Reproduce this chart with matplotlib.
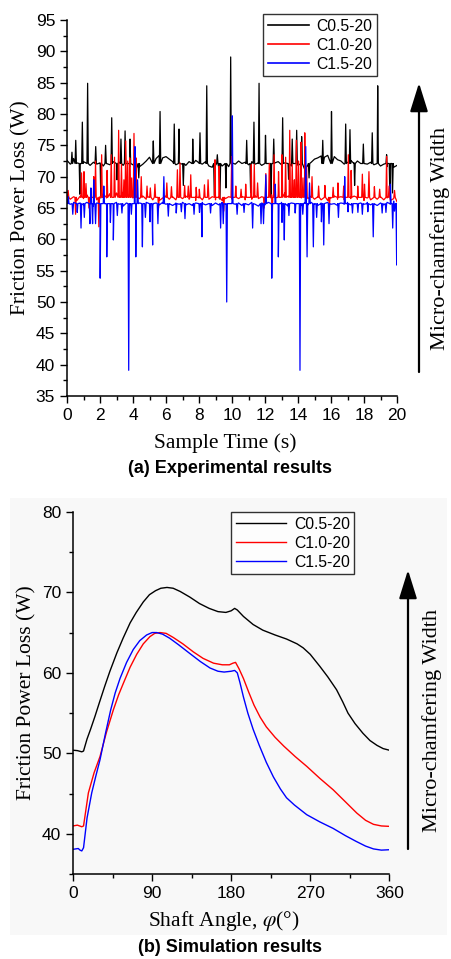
import numpy as np
import matplotlib
matplotlib.use("Agg")
import matplotlib.pyplot as plt
from matplotlib.patches import FancyArrowPatch, Rectangle
from matplotlib.ticker import MultipleLocator

plt.rcParams['font.family'] = ['Liberation Sans', 'DejaVu Sans']
plt.rcParams['mathtext.fontset'] = 'stix'

# ---------------- (a) experimental data ----------------
labels = ["C0.5-20", "C1.0-20", "C1.5-20"]
colors = ["black", "red", "blue"]

# baseline values sampled every 0.2 s (0 ... 20 s)
t_base = [round(0.2 * i, 1) for i in range(101)]

black_base = [72.6, 72.0, 72.9, 72.2, 71.9, 72.4, 72.1, 71.8, 72.3, 72.0,
              72.2, 71.7, 72.1, 71.9, 72.4, 72.0, 72.3, 71.8, 72.1, 71.6,
              71.9, 71.3, 71.6, 72.0, 72.5, 73.1, 73.3, 72.9, 73.4, 73.0,
              73.2, 72.8, 72.4, 71.9, 72.3, 72.0, 71.8, 72.4, 72.1, 72.6,
              72.2, 72.0, 72.4, 71.7, 71.5, 71.8, 71.4, 71.7, 71.9, 71.6,
              72.2, 72.0, 72.5, 72.1, 72.3, 71.9, 72.4, 72.0, 72.2, 71.8,
              72.3, 72.1, 71.8, 72.2, 72.4, 71.9, 72.2, 72.0, 71.7, 72.1,
              71.8, 71.4, 71.2, 71.8, 72.3, 72.8, 73.0, 73.3, 73.1, 73.4,
              72.9, 73.2, 72.7, 72.5, 72.0, 72.3, 72.6, 72.2, 72.5, 72.1,
              72.4, 72.0, 72.3, 71.9, 72.2, 71.7, 72.0, 71.6, 71.9, 71.5,
              71.8]
red_base = [67.0, 66.4, 66.8, 66.2, 66.9, 66.5, 67.1, 66.6, 66.9, 66.3,
            66.8, 67.2, 66.6, 67.3, 66.7, 67.4, 66.9, 67.5, 66.8, 67.2,
            66.6, 67.0, 66.5, 66.9, 66.4, 66.8, 66.3, 66.7, 66.2, 66.6,
            66.9, 66.4, 66.8, 66.3, 66.7, 66.5, 66.9, 66.4, 66.7, 66.2,
            66.6, 66.3, 66.7, 66.4, 66.8, 66.3, 66.6, 66.2, 66.5, 66.8,
            66.4, 66.9, 66.5, 66.8, 66.3, 66.7, 66.4, 66.9, 66.5, 66.8,
            66.3, 66.7, 67.1, 66.6, 67.2, 66.8, 67.4, 66.9, 67.3, 66.7,
            67.2, 66.6, 67.0, 66.5, 66.9, 66.4, 66.8, 66.3, 66.7, 66.2,
            66.6, 66.9, 66.4, 66.8, 66.3, 66.7, 66.5, 66.9, 66.4, 66.7,
            66.2, 66.6, 66.3, 66.7, 66.4, 66.8, 66.3, 66.6, 66.2, 66.5,
            66.0]
blue_base = [66.4, 65.6, 65.9, 65.4, 65.8, 65.5, 65.9, 65.6, 65.3, 65.8,
             65.5, 65.9, 65.4, 65.7, 65.5, 65.9, 65.6, 65.3, 65.8, 65.5,
             65.7, 65.4, 65.8, 65.5, 65.9, 65.6, 65.4, 65.8, 65.5, 65.9,
             65.6, 65.7, 65.4, 65.8, 65.6, 65.9, 65.5, 65.7, 65.4, 65.8,
             65.6, 65.9, 65.5, 65.7, 65.4, 65.8, 65.5, 65.9, 65.6, 65.7,
             66.0, 65.6, 65.8, 65.4, 65.7, 65.5, 65.9, 65.6, 65.3, 65.8,
             65.5, 65.9, 65.4, 65.7, 65.5, 65.9, 65.6, 65.3, 65.8, 65.5,
             65.7, 65.4, 65.8, 65.5, 65.9, 65.6, 65.4, 65.8, 65.5, 65.9,
             65.6, 65.7, 65.4, 65.8, 65.6, 65.9, 65.5, 65.7, 65.4, 65.8,
             65.6, 65.9, 65.5, 65.7, 65.4, 65.8, 65.5, 65.9, 65.6, 66.1,
             65.7]

# level each spike starts from and returns to
black_level = 72.1
red_level = 66.7
blue_level = 65.7

# spikes / dips (time s, value W)
black_spk_t = [0.30, 0.53, 0.78, 0.93, 1.25, 1.74, 2.05, 2.34, 2.71, 3.03,
               3.27, 3.52, 3.82, 4.35, 5.23, 5.64, 6.50, 6.79, 7.05, 7.62,
               8.06, 8.47, 8.93, 9.11, 9.27, 9.63, 9.92, 10.89, 11.13, 11.33,
               11.64, 12.03, 12.37, 12.53, 13.07, 13.43, 13.65, 13.92, 14.22, 14.67,
               15.50, 16.03, 16.89, 17.15, 17.43, 17.96, 18.50, 18.83, 19.37, 19.57,
               19.73]
black_spk_v = [73.9, 75.8, 67.2, 78.7, 84.9, 74.8, 66.6, 75.0, 79.4, 69.5,
               76.0, 77.3, 76.0, 69.8, 75.7, 80.4, 78.4, 77.6, 68.6, 76.0,
               77.0, 84.5, 67.0, 73.5, 66.4, 68.2, 89.1, 75.8, 67.4, 78.7,
               84.9, 76.6, 66.6, 76.0, 79.4, 69.6, 76.0, 77.4, 76.4, 69.8,
               75.8, 80.4, 78.4, 77.5, 68.6, 75.2, 77.0, 84.5, 73.5, 66.8,
               67.4]

red_spk_t = [0.07, 0.52, 0.88, 1.03, 1.15, 1.33, 1.62, 1.73, 1.93, 2.10,
             2.43, 2.68, 2.88, 3.13, 3.30, 3.45, 3.56, 3.68, 3.80, 3.92,
             4.06, 4.18, 4.50, 4.85, 5.05, 5.33, 5.55, 6.05, 6.33, 6.69,
             6.85, 7.13, 7.35, 7.50, 7.83, 8.02, 8.33, 8.55, 8.97, 9.22,
             9.50, 9.98, 10.23, 10.55, 10.83, 11.17, 11.35, 11.55, 11.95, 12.05,
             12.26, 12.43, 12.55, 12.82, 13.03, 13.25, 13.50, 13.65, 13.78, 13.90,
             14.03, 14.18, 14.30, 14.41, 14.52, 14.85, 15.25, 15.63, 15.90, 16.13,
             16.42, 16.77, 17.05, 17.22, 17.62, 17.90, 18.03, 18.30, 18.63, 18.95,
             19.37, 19.52, 19.85]
red_spk_v = [67.8, 64.0, 70.6, 70.8, 68.9, 65.0, 70.0, 72.5, 62.0, 73.5,
             71.0, 73.5, 73.1, 77.4, 72.0, 69.5, 75.7, 72.5, 73.0, 69.8,
             76.9, 73.0, 70.0, 68.5, 68.2, 68.8, 65.0, 69.0, 68.4, 71.1,
             72.2, 68.6, 68.5, 70.3, 68.3, 68.0, 68.7, 69.5, 72.7, 71.7,
             64.5, 73.2, 68.5, 68.0, 68.8, 71.9, 72.0, 69.0, 65.0, 70.5,
             72.1, 62.0, 73.5, 70.8, 73.5, 73.1, 77.4, 72.0, 69.5, 75.8,
             72.5, 75.5, 69.8, 77.0, 71.7, 70.0, 68.5, 68.6, 65.0, 68.3,
             69.0, 68.5, 73.5, 71.0, 68.5, 70.4, 68.8, 70.8, 68.4, 68.0,
             73.2, 68.5, 67.8]

blue_spk_t = [0.08, 0.35, 0.62, 0.85, 1.05, 1.39, 1.45, 1.55, 1.62, 1.73,
              2.01, 2.23, 2.41, 2.63, 2.81, 3.05, 3.33, 3.74, 3.90, 4.12,
              4.17, 4.28, 4.57, 4.75, 5.03, 5.19, 5.51, 5.87, 6.14, 6.62,
              6.93, 7.15, 7.70, 8.03, 8.18, 8.70, 9.31, 9.47, 9.68, 10.02,
              10.31, 10.73, 11.25, 11.76, 11.91, 12.05, 12.41, 12.62, 12.81, 13.03,
              13.17, 13.45, 13.83, 14.12, 14.29, 14.47, 14.55, 14.70, 14.93, 15.13,
              15.42, 15.56, 15.88, 16.45, 16.83, 17.03, 17.30, 17.63, 17.90, 18.23,
              18.56, 19.10, 19.33, 19.60, 19.74, 19.85, 19.98]
blue_spk_v = [66.8, 64.0, 64.3, 61.8, 63.5, 62.5, 68.2, 62.5, 69.5, 62.5,
              53.8, 68.5, 57.2, 62.7, 59.9, 63.8, 64.2, 39.1, 64.0, 74.8,
              57.2, 69.5, 58.8, 63.5, 62.8, 59.1, 62.5, 70.0, 63.7, 64.2,
              64.4, 63.3, 64.0, 64.3, 60.4, 64.2, 61.8, 62.5, 50.0, 79.7,
              64.0, 64.3, 61.8, 62.5, 62.5, 70.3, 53.8, 68.8, 57.2, 62.7,
              59.9, 63.8, 64.2, 39.1, 64.0, 74.8, 57.2, 69.0, 58.8, 63.5,
              62.8, 59.1, 62.5, 63.5, 70.0, 64.4, 64.2, 64.3, 64.0, 64.4,
              60.4, 64.2, 64.3, 68.8, 61.8, 64.5, 55.9]

# ---------------- (b) simulation data ----------------
black_ang = [0, 5, 10, 12, 16, 20, 25, 30, 36, 42, 50, 57, 65, 72, 80, 87,
             94, 100, 107, 114, 122, 133, 144, 155, 165, 174, 180, 184, 187,
             194, 205, 216, 230, 243, 255, 262, 270, 281, 290, 300, 307, 313,
             321, 330, 338, 346, 353, 360]
black_val = [50.4, 50.35, 50.2, 50.3, 51.8, 53.0, 54.6, 56.3, 58.3, 60.2,
             62.5, 64.3, 66.2, 67.5, 68.8, 69.7, 70.2, 70.5, 70.6, 70.5,
             70.1, 69.4, 68.6, 68.0, 67.6, 67.5, 67.7, 68.0, 67.8, 67.0,
             66.0, 65.3, 64.7, 64.2, 63.6, 63.1, 62.3, 60.8, 59.5, 57.9,
             56.4, 55.0, 53.7, 52.5, 51.6, 51.0, 50.6, 50.4]

red_ang = [0, 5, 10, 12, 17.5, 24, 30.7, 38, 45.9, 52, 57.3, 65, 72.5, 80,
           87.6, 93, 99, 106, 114, 125, 137, 148, 160, 170, 178, 182, 185,
           189, 194, 200, 206, 213, 220, 230, 240, 253, 266, 281, 296, 310,
           323, 333, 342, 351, 360]
red_val = [41.0, 41.1, 40.9, 41.0, 45.1, 47.6, 49.6, 52.6, 55.4, 57.3, 58.7,
           60.7, 62.3, 63.6, 64.5, 64.9, 65.0, 64.9, 64.4, 63.6, 62.6, 61.8,
           61.2, 61.0, 61.0, 61.2, 61.3, 60.5, 59.3, 57.6, 56.0, 54.5, 53.3,
           52.0, 50.9, 49.6, 48.4, 46.9, 45.5, 44.0, 42.6, 41.7, 41.2, 41.0,
           40.95]

blue_ang = [0, 6, 8, 10, 12, 16, 21.3, 26, 30.7, 37, 42.9, 48, 53.5, 61,
            68.6, 76, 83.8, 90, 95.3, 102, 110, 120, 133, 145, 156, 165, 172,
            180, 184, 187, 190, 194, 199, 205, 212, 220, 228, 236, 243, 252,
            266, 281, 296, 310, 322, 333, 342, 351, 360]
blue_val = [38.1, 38.2, 38.0, 37.9, 38.3, 42.0, 45.1, 47.2, 49.2, 52.5, 55.4,
            57.5, 59.3, 61.3, 62.9, 64.0, 64.7, 65.0, 65.0, 64.8, 64.3, 63.5,
            62.4, 61.4, 60.6, 60.2, 60.1, 60.2, 60.3, 60.0, 58.8, 57.0, 55.0,
            53.0, 51.0, 48.9, 47.1, 45.6, 44.5, 43.6, 42.4, 41.5, 40.7, 39.8,
            39.1, 38.5, 38.15, 38.0, 38.05]

# ---------------- figure ----------------
W, H = 452, 959
fig = plt.figure(figsize=(W / 100, H / 100), dpi=100)

def fx(px):
    return px / W

def fy(py):
    return 1 - py / H

serif = ['Liberation Serif', 'DejaVu Serif']

# light panel behind (b)
fig.add_artist(Rectangle((fx(10), fy(935)), fx(437), 437 / H,
                         transform=fig.transFigure, facecolor='#f8f8f8',
                         edgecolor='none', zorder=0))


def style_axes(ax):
    ax.set_facecolor('none')
    for s in ['top', 'right']:
        ax.spines[s].set_visible(False)
    for s in ['left', 'bottom']:
        ax.spines[s].set_linewidth(1.1)
    ax.tick_params(which='both', direction='out', width=1.0, labelsize=12.5)
    ax.tick_params(which='major', length=5)
    ax.tick_params(which='minor', length=3)


def merge(tb, vb, ts, vs, level, w=0.04):
    # each spike rises from the series level and falls back to it
    ts = np.asarray(ts)
    t = np.concatenate([tb, ts - w, ts, ts + w])
    v = np.concatenate([vb, np.full(len(ts), level), vs, np.full(len(ts), level)])
    order = np.argsort(t, kind='stable')
    return t[order], v[order]


# (a)
ax1 = fig.add_axes([fx(67), fy(396), 330 / W, 376 / H])
style_axes(ax1)
series_a = [(black_base, black_spk_t, black_spk_v, black_level),
            (red_base, red_spk_t, red_spk_v, red_level),
            (blue_base, blue_spk_t, blue_spk_v, blue_level)]
for (vb, ts, vs, lev), c, lab in zip(series_a, colors, labels):
    t, v = merge(t_base, vb, ts, vs, lev)
    ax1.plot(t, v, color=c, lw=0.9, label=lab)
ax1.set_xlim(0, 20)
ax1.set_ylim(35, 95)
ax1.xaxis.set_major_locator(MultipleLocator(2))
ax1.xaxis.set_minor_locator(MultipleLocator(1))
ax1.yaxis.set_major_locator(MultipleLocator(5))
ax1.yaxis.set_minor_locator(MultipleLocator(2.5))
ax1.set_xlabel('Sample Time (s)', family=serif, fontsize=15.5)
ax1.set_ylabel('Friction Power Loss (W)', family=serif, fontsize=15.5)
ax1.xaxis.set_label_coords(0.48, -0.10)
ax1.yaxis.set_label_coords(-0.11, 0.5)
leg1 = ax1.legend(loc='upper left', bbox_to_anchor=(fx(263), fy(14)),
                  bbox_transform=fig.transFigure, fontsize=11.3,
                  frameon=True, fancybox=False, edgecolor='black',
                  handlelength=2.6, handletextpad=0.5, borderpad=0.3,
                  labelspacing=0.25, borderaxespad=0)
leg1.get_frame().set_linewidth(1.0)
for h in leg1.get_lines():
    h.set_linewidth(1.2)

# (b)
ax2 = fig.add_axes([fx(73), fy(874.3), 316.3 / W, 362.6 / H])
style_axes(ax2)
series_b = [(black_ang, black_val), (red_ang, red_val), (blue_ang, blue_val)]
for (a, v), c, lab in zip(series_b, colors, labels):
    ax2.plot(a, v, color=c, lw=1.0, label=lab)
ax2.set_xlim(0, 360)
ax2.set_ylim(35, 80)
ax2.xaxis.set_major_locator(MultipleLocator(90))
ax2.xaxis.set_minor_locator(MultipleLocator(45))
ax2.yaxis.set_major_locator(MultipleLocator(10))
ax2.yaxis.set_minor_locator(MultipleLocator(5))
ax2.set_xlabel('Shaft Angle, $\\varphi$(°)', family=serif, fontsize=15.5)
ax2.set_ylabel('Friction Power Loss (W)', family=serif, fontsize=15.5)
ax2.xaxis.set_label_coords(0.475, -0.095)
ax2.yaxis.set_label_coords(-0.115, 0.5)
leg2 = ax2.legend(loc='upper left', bbox_to_anchor=(fx(231), fy(512)),
                  bbox_transform=fig.transFigure, fontsize=11.3,
                  frameon=True, fancybox=False, edgecolor='black',
                  handlelength=3.2, handletextpad=0.5, borderpad=0.3,
                  labelspacing=0.25, borderaxespad=0)
leg2.get_frame().set_linewidth(1.0)

# arrows with text
for x_px, y_tail, y_tip, tx, ty in [(419, 372, 83, 440, 238),
                                    (408, 849, 570, 432, 721)]:
    fig.add_artist(FancyArrowPatch((fx(x_px), fy(y_tail)), (fx(x_px), fy(y_tip)),
                                   transform=fig.transFigure,
                                   arrowstyle='-|>,head_length=0.8,head_width=0.25',
                                   mutation_scale=22, lw=1.6, color='black',
                                   shrinkA=0, shrinkB=0))
    fig.text(fx(tx), fy(ty), 'Micro-chamfering Width', rotation=90,
             ha='center', va='center', family=serif, fontsize=16)

fig.text(fx(230), fy(468), '(a) Experimental results', ha='center',
         va='center', fontsize=13, weight='bold')
fig.text(fx(230), fy(948), '(b) Simulation results', ha='center',
         va='center', fontsize=13, weight='bold')

fig.savefig('out.png', dpi=100)
